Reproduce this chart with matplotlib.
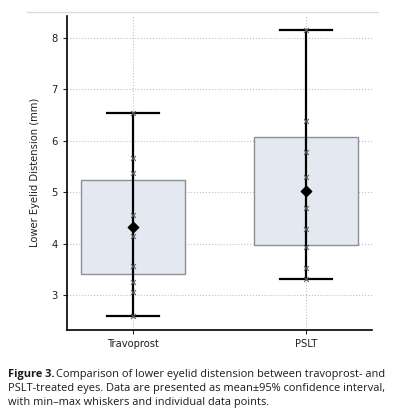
import numpy as np
import matplotlib
matplotlib.use('Agg')
import matplotlib.pyplot as plt
from matplotlib.lines import Line2D

# data
groups = ['Travoprost', 'PSLT']
points_travo = [6.54, 5.67, 5.38, 4.56, 4.15, 3.57, 3.25, 3.06, 2.60]
points_pslt = [8.14, 6.39, 5.77, 5.30, 4.69, 4.29, 3.94, 3.53, 3.31]
means = [4.32, 5.02]
ci_low = [3.42, 3.98]
ci_high = [5.23, 6.07]
yticks = [3, 4, 5, 6, 7, 8]

all_points = [points_travo, points_pslt]

fig = plt.figure(figsize=(3.94, 4.17), dpi=100)
ax = fig.add_axes([0.170, 0.209, 0.774, 0.753])

grid_col = '#b9c4d2'
box_face = '#e4e9f1'
box_edge = '#8a9097'
txt_col = '#231f20'

xpos = np.arange(len(groups))
for i, pts in enumerate(all_points):
    # 95% CI box
    ax.bar(xpos[i], ci_high[i] - ci_low[i], bottom=ci_low[i], width=0.6,
           color=box_face, edgecolor=box_edge, linewidth=1.0, zorder=2)
    # min-max whisker
    lo, hi = min(pts), max(pts)
    ax.plot([xpos[i], xpos[i]], [lo, hi], color='black', lw=1.6, zorder=3)
    ax.plot([xpos[i] - 0.15, xpos[i] + 0.15], [lo, lo], color='black', lw=1.6, zorder=3)
    ax.plot([xpos[i] - 0.15, xpos[i] + 0.15], [hi, hi], color='black', lw=1.6, zorder=3)
    # individual points
    ax.scatter(np.full(len(pts), xpos[i]), pts, marker='x', s=12, color='#5a5f66',
               linewidths=0.9, alpha=0.9, zorder=4)
    # mean
    ax.scatter([xpos[i]], [means[i]], marker='D', s=28, color='black', zorder=5)

ax.set_xlim(-0.38, 1.38)
ax.set_ylim(2.33, 8.42)
ax.set_xticks(xpos)
ax.set_xticklabels(groups)
ax.set_yticks(yticks)
ax.grid(True, linestyle=':', color=grid_col, linewidth=0.8, zorder=0)
ax.set_axisbelow(True)
for s in ['top', 'right']:
    ax.spines[s].set_visible(False)
for s in ['left', 'bottom']:
    ax.spines[s].set_color('black')
    ax.spines[s].set_linewidth(1.2)
ax.tick_params(axis='both', labelsize=7.2, colors=txt_col, length=3, width=0.8)
ax.set_ylabel('Lower Eyelid Distension (mm)', fontsize=7.2, color=txt_col, labelpad=8)

# thin rule at top of the figure
fig.add_artist(Line2D([27 / 394, 378 / 394], [1 - 12 / 417, 1 - 12 / 417],
                      color='#d3dde9', lw=1.0))

# caption
cap_fs = 7.9
fig.canvas.draw()
r = fig.canvas.get_renderer()
y1 = 1 - 374 / 417
t0 = fig.text(8 / 394, y1, 'Figure 3.', fontsize=cap_fs, fontweight='bold',
              color='#1a1a1a', va='center', family='Open Sans')
bb = t0.get_window_extent(renderer=r)
fig.text(bb.x1 / fig.bbox.width + 2 / 394, y1,
         'Comparison of lower eyelid distension between travoprost- and',
         fontsize=cap_fs, color='#1a1a1a', va='center', family='Open Sans')
fig.text(8 / 394, 1 - 388 / 417,
         'PSLT-treated eyes. Data are presented as mean\u00b195% confidence interval,',
         fontsize=cap_fs, color='#1a1a1a', va='center', family='Open Sans')
fig.text(8 / 394, 1 - 402 / 417,
         'with min\u2013max whiskers and individual data points.',
         fontsize=cap_fs, color='#1a1a1a', va='center', family='Open Sans')

fig.savefig('out.png', dpi=100)
